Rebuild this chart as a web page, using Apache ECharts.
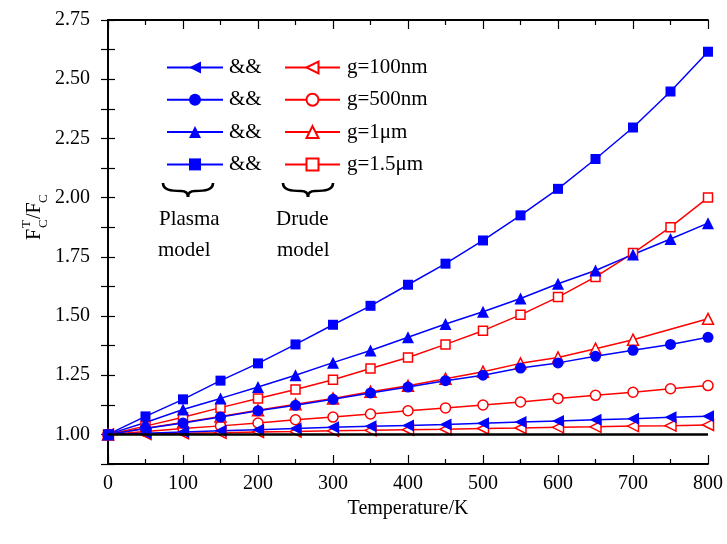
<!DOCTYPE html>
<html>
<head>
<meta charset="utf-8">
<script src="https://cdn.jsdelivr.net/npm/echarts@6/dist/echarts.min.js"></script>
<style>html,body{margin:0;padding:0;background:#fff;}#c{width:727px;height:544px;}</style>
</head>
<body>
<div id="c"></div>
<script>
var temps = [0,50,100,150,200,250,300,350,400,450,500,550,600,650,700,750,800];
var plasma100 = [1.000,1.005,1.010,1.015,1.020,1.025,1.030,1.034,1.038,1.042,1.047,1.052,1.057,1.062,1.066,1.072,1.077];
var plasma500 = [1.000,1.025,1.048,1.073,1.100,1.123,1.148,1.175,1.200,1.227,1.250,1.280,1.302,1.330,1.355,1.380,1.410];
var plasma1um = [1.000,1.050,1.105,1.152,1.200,1.250,1.303,1.354,1.410,1.466,1.518,1.574,1.636,1.692,1.760,1.825,1.892];
var plasma15um = [1.000,1.076,1.148,1.227,1.300,1.380,1.463,1.543,1.632,1.721,1.819,1.925,2.037,2.163,2.296,2.448,2.616];
var drude100 = [1.000,1.002,1.005,1.007,1.010,1.012,1.015,1.017,1.020,1.022,1.025,1.027,1.030,1.032,1.035,1.037,1.040];
var drude500 = [1.000,1.012,1.025,1.036,1.048,1.062,1.073,1.086,1.100,1.112,1.124,1.137,1.152,1.165,1.178,1.193,1.206];
var drude1um = [1.000,1.026,1.050,1.076,1.102,1.127,1.152,1.180,1.205,1.235,1.265,1.300,1.325,1.362,1.400,null,1.488];
var drude15um = [1.000,1.035,1.072,1.113,1.152,1.190,1.231,1.278,1.325,1.380,1.438,1.505,1.580,1.665,1.766,1.875,2.000];
var plasmaNames = ['P100','P500','P1um','P15um'];
var drudeNames = ['g=100nm','g=500nm','g=1\u03bcm','g=1.5\u03bcm'];
var yTickLabels = ['1.00','1.25','1.50','1.75','2.00','2.25','2.50','2.75'];

var FONT = "'Liberation Serif','Times New Roman',serif";
var BLUE = '#0000ff', RED = '#ff0000';

function pairs(arr){ return temps.map(function(t,i){ return [t, arr[i]]; }); }

function mk(name, arr, color, symbol, rot, open, size, extra){
  var s = {
    name: name, type: 'line', data: pairs(arr), connectNulls: true,
    symbol: symbol, symbolSize: size, symbolRotate: rot,
    lineStyle: {color: color, width: 1.5},
    itemStyle: open ? {color: '#fff', borderColor: color, borderWidth: 1.5} : {color: color, borderWidth: 0},
    emphasis: {disabled: true}, animation: false, xAxisIndex: 0, yAxisIndex: 0
  };
  if (extra) for (var k in extra) s[k] = extra[k];
  return s;
}

var series = [
  mk(drudeNames[0], drude100, RED, 'triangle', 90, true, 11, {
    markLine: {silent: true, symbol: 'none', label: {show: false},
      lineStyle: {color: '#000', width: 2.5, type: 'solid'}, data: [{yAxis: 1}], animation: false}
  }),
  mk(drudeNames[1], drude500, RED, 'circle', 0, true, 10),
  mk(drudeNames[2], drude1um, RED, 'triangle', 0, true, 11),
  mk(drudeNames[3], drude15um, RED, 'rect', 0, true, 9),
  mk(plasmaNames[0], plasma100, BLUE, 'triangle', 90, false, 12),
  mk(plasmaNames[1], plasma500, BLUE, 'circle', 0, false, 11),
  mk(plasmaNames[2], plasma1um, BLUE, 'triangle', 0, false, 12),
  mk(plasmaNames[3], plasma15um, BLUE, 'rect', 0, false, 10)
];

var axisLine = {show: true, lineStyle: {color: '#000', width: 1.8}};

function brace(x, y){
  var st = {fill: 'none', stroke: '#000', lineWidth: 2.6};
  return {type: 'group', x: x, y: y, children: [
    {type: 'bezierCurve', shape: {x1: 0, y1: 0, cpx1: 0, cpy1: 7, cpx2: 8, cpy2: 8, x2: 18, y2: 8}, style: st},
    {type: 'bezierCurve', shape: {x1: 18, y1: 8, cpx1: 23, cpy1: 8, cpx2: 25, cpy2: 10, x2: 25, y2: 14}, style: st},
    {type: 'bezierCurve', shape: {x1: 25, y1: 14, cpx1: 25, cpy1: 10, cpx2: 27, cpy2: 8, x2: 32, y2: 8}, style: st},
    {type: 'bezierCurve', shape: {x1: 32, y1: 8, cpx1: 42, cpy1: 8, cpx2: 50, cpy2: 7, x2: 50, y2: 0}, style: st}
  ]};
}

var option = {
  backgroundColor: '#fff',
  animation: false,
  grid: {left: 108, right: 19, top: 20, bottom: 80},
  legend: [
    {data: plasmaNames, orient: 'vertical', left: 161, top: 52, itemWidth: 56, itemHeight: 15, itemGap: 11.3,
     formatter: function(){ return '&&'; },
     textStyle: {fontFamily: FONT, fontSize: 21, color: '#000', lineHeight: 20, padding: [0,0,0,1]}, selectedMode: false},
    {data: drudeNames, orient: 'vertical', left: 279, top: 52, itemWidth: 55, itemHeight: 15, itemGap: 11.3,
     textStyle: {fontFamily: FONT, fontSize: 21, color: '#000', lineHeight: 20, padding: [0,0,0,2]}, selectedMode: false}
  ],
  xAxis: [
    {type: 'value', min: 0, max: 800, interval: 100, position: 'bottom',
     axisLine: axisLine, splitLine: {show: false},
     axisTick: {inside: true, length: 9, lineStyle: {color: '#000', width: 1.2}},
     minorTick: {show: true, splitNumber: 2, length: 5, lineStyle: {color: '#000', width: 1.2}},
     axisLabel: {fontFamily: FONT, fontSize: 20, color: '#000', margin: 10},
     name: 'Temperature/K', nameLocation: 'middle', nameGap: 28,
     nameTextStyle: {fontFamily: FONT, fontSize: 20, color: '#000'}},
    {type: 'value', min: 0, max: 800, interval: 100, position: 'top',
     axisLine: axisLine, splitLine: {show: false},
     axisTick: {inside: true, length: 9, lineStyle: {color: '#000', width: 1.2}},
     minorTick: {show: true, splitNumber: 2, length: 5, lineStyle: {color: '#000', width: 1.2}},
     axisLabel: {show: false}}
  ],
  yAxis: [
    {type: 'value', min: 0.875, max: 2.75, interval: 0.125, position: 'left',
     axisLine: axisLine, splitLine: {show: false},
     axisTick: {inside: true, length: 7, lineStyle: {color: '#000', width: 1.2}},
     axisLabel: {fontFamily: FONT, fontSize: 20, color: '#000', margin: 18,
       formatter: function(v){
         var r = Math.round((v - 1) / 0.25);
         if (Math.abs(v - 1 - r * 0.25) < 1e-6 && r >= 0 && r < yTickLabels.length) return yTickLabels[r];
         return '';
       }}},
    {type: 'value', min: 0.875, max: 2.75, interval: 0.125, position: 'right',
     axisLine: axisLine, splitLine: {show: false},
     axisTick: {inside: true, length: 7, lineStyle: {color: '#000', width: 1.2}},
     axisLabel: {show: false}}
  ],
  graphic: [
    brace(163, 183),
    brace(283, 183),
    {type: 'text', left: 159, top: 209, style: {text: 'Plasma', font: '21px ' + FONT, fill: '#000'}},
    {type: 'text', left: 158, top: 240, style: {text: 'model', font: '21px ' + FONT, fill: '#000'}},
    {type: 'text', left: 276, top: 209, style: {text: 'Drude', font: '21px ' + FONT, fill: '#000'}},
    {type: 'text', left: 277, top: 240, style: {text: 'model', font: '21px ' + FONT, fill: '#000'}},
    {type: 'group', x: 42, y: 240, rotation: Math.PI / 2, children: [
      {type: 'text', x: 0, y: -7, style: {text: 'F', font: '20px ' + FONT, fill: '#000', verticalAlign: 'middle'}},
      {type: 'text', x: 12, y: -15, style: {text: 'T', font: '13px ' + FONT, fill: '#000', verticalAlign: 'middle'}},
      {type: 'text', x: 12, y: 2, style: {text: 'C', font: '13px ' + FONT, fill: '#000', verticalAlign: 'middle'}},
      {type: 'text', x: 21, y: -7, style: {text: '/F', font: '20px ' + FONT, fill: '#000', verticalAlign: 'middle'}},
      {type: 'text', x: 37, y: 2, style: {text: 'C', font: '13px ' + FONT, fill: '#000', verticalAlign: 'middle'}}
    ]}
  ],
  series: series
};

var chart = echarts.init(document.getElementById('c'), null, {renderer: 'canvas'});
chart.setOption(option);
</script>
</body>
</html>
